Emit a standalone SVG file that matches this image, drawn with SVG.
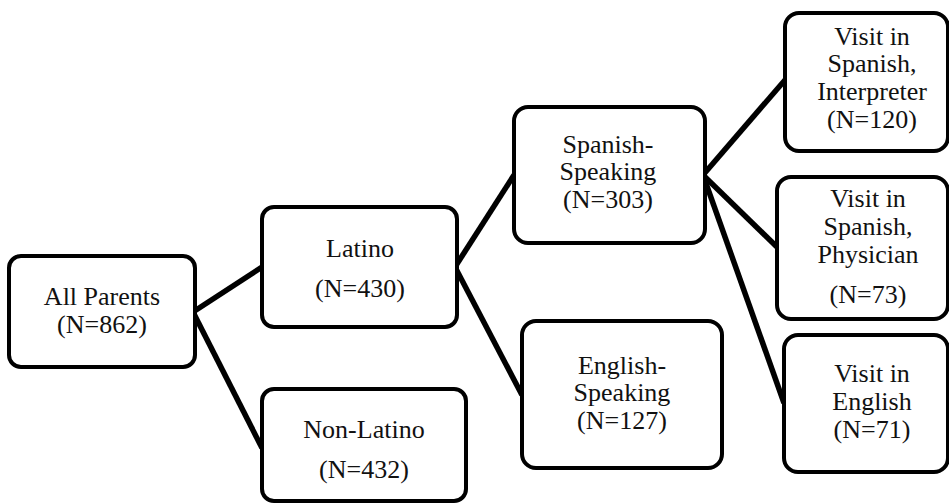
<svg xmlns="http://www.w3.org/2000/svg" width="949" height="504" viewBox="0 0 949 504">
<style>
.box{fill:#fff;stroke:#000;stroke-width:4}
.t{font-family:"Liberation Serif","Times New Roman",serif;font-size:26px;fill:#111;text-anchor:middle}
.c{stroke:#000;stroke-width:5.5;stroke-linecap:butt;fill:none}
</style>
<rect width="949" height="504" fill="#fff"/>
<g id="connectors">
<line class="c" x1="193" y1="312" x2="262" y2="267"/>
<line class="c" x1="193" y1="312" x2="262" y2="448"/>
<line class="c" x1="455" y1="267" x2="514" y2="175"/>
<line class="c" x1="455" y1="267" x2="522" y2="395"/>
<line class="c" x1="703" y1="175" x2="785" y2="80"/>
<line class="c" x1="703" y1="175" x2="777" y2="247"/>
<line class="c" x1="703" y1="175" x2="784" y2="403"/>
</g>
<g id="all-parents">
<rect class="box" x="9" y="256" width="186" height="111" rx="12"/>
<text class="t" x="102" y="305">All Parents</text>
<text class="t" x="102" y="333">(N=862)</text>
</g>
<g id="latino">
<rect class="box" x="262" y="207" width="195" height="120" rx="12"/>
<text class="t" x="360" y="257">Latino</text>
<text class="t" x="360" y="297">(N=430)</text>
</g>
<g id="non-latino">
<rect class="box" x="262" y="389" width="204" height="112" rx="12"/>
<text class="t" x="364" y="438">Non-Latino</text>
<text class="t" x="364" y="478">(N=432)</text>
</g>
<g id="spanish-speaking">
<rect class="box" x="514" y="107" width="191" height="136" rx="14"/>
<text class="t" x="608" y="153">Spanish-</text>
<text class="t" x="608" y="180">Speaking</text>
<text class="t" x="608" y="208">(N=303)</text>
</g>
<g id="english-speaking">
<rect class="box" x="522" y="321" width="200" height="147" rx="14"/>
<text class="t" x="622" y="374">English-</text>
<text class="t" x="622" y="401">Speaking</text>
<text class="t" x="622" y="429">(N=127)</text>
</g>
<g id="visit-spanish-interpreter">
<rect class="box" x="785" y="13" width="163" height="138" rx="14"/>
<text class="t" x="872" y="45">Visit in</text>
<text class="t" x="872" y="72">Spanish,</text>
<text class="t" x="872" y="100">Interpreter</text>
<text class="t" x="872" y="128">(N=120)</text>
</g>
<g id="visit-spanish-physician">
<rect class="box" x="777" y="177" width="171" height="142" rx="14"/>
<text class="t" x="868" y="207">Visit in</text>
<text class="t" x="868" y="235">Spanish,</text>
<text class="t" x="868" y="263">Physician</text>
<text class="t" x="868" y="303">(N=73)</text>
</g>
<g id="visit-english">
<rect class="box" x="784" y="335" width="164" height="137" rx="14"/>
<text class="t" x="872" y="382">Visit in</text>
<text class="t" x="872" y="410">English</text>
<text class="t" x="872" y="438">(N=71)</text>
</g>
</svg>
